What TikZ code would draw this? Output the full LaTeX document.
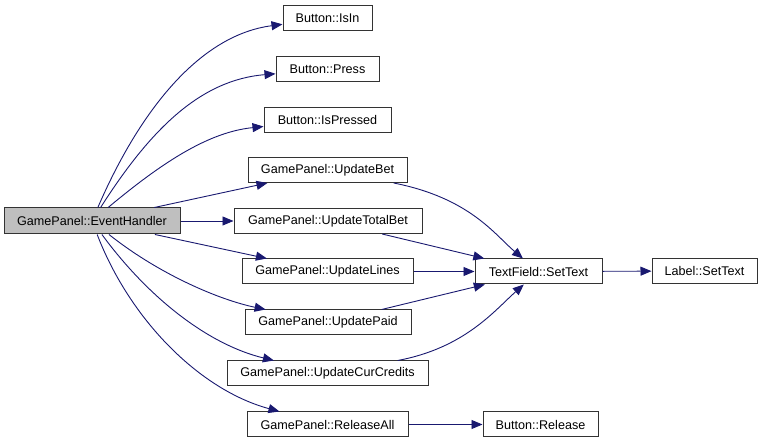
\documentclass[tikz,border=0pt]{standalone}
\usepackage{fontspec}
\setmainfont{Liberation Sans}
\usetikzlibrary{arrows.meta}
\definecolor{edgeblue}{RGB}{25,25,112}
\definecolor{boxgray}{RGB}{191,191,191}
\begin{document}
\begin{tikzpicture}[x=1pt,y=-1pt,
  fn/.style={draw=black!80, line width=1pt, rectangle, minimum height=25pt, inner sep=0pt, fill=white, font=\fontsize{12.6}{15}\selectfont},
  call/.style={draw=edgeblue, line width=0.9pt, -{Triangle[length=11pt,width=9pt]}, fill=none}]
\useasboundingbox (0,0) rectangle (764,443);
\node[fn, fill=boxgray, minimum width=176pt, minimum height=26pt] (eh) at (92,221) {GamePanel::EventHandler};
\node[fn, minimum width=89pt] (isin) at (327.5,18.5) {Button::IsIn};
\node[fn, minimum width=103pt] (press) at (327.5,69.5) {Button::Press};
\node[fn, minimum width=127pt] (ispressed) at (327.5,120) {Button::IsPressed};
\node[fn, minimum width=159pt] (ubet) at (327.5,170) {GamePanel::UpdateBet};
\node[fn, minimum width=188pt] (utotal) at (328,221) {GamePanel::UpdateTotalBet};
\node[fn, minimum width=171pt] (ulines) at (327.5,271.5) {GamePanel::UpdateLines};
\node[fn, minimum width=166pt] (upaid) at (328,322.5) {GamePanel::UpdatePaid};
\node[fn, minimum width=201pt] (ucur) at (327.5,373.5) {GamePanel::UpdateCurCredits};
\node[fn, minimum width=161pt] (rall) at (327.5,424.5) {GamePanel::ReleaseAll};
\node[fn, minimum width=127pt] (tf) at (538.5,271.5) {TextField::SetText};
\node[fn, minimum width=115pt] (rel) at (540.5,424.5) {Button::Release};
\node[fn, minimum width=105pt] (lbl) at (704.5,271) {Label::SetText};

\draw[call] (eh) .. controls (140,110) and (200,35) .. (isin);
\draw[call] (eh) .. controls (150,130) and (200,80) .. (press);
\draw[call] (eh) .. controls (165,160) and (210,132) .. (ispressed);
\draw[call] (eh) -- (ubet);
\draw[call] (eh) -- (utotal);
\draw[call] (eh) -- (ulines);
\draw[call] (eh) .. controls (160,275) and (220,300) .. (upaid);
\draw[call] (eh) .. controls (150,300) and (210,345) .. (ucur);
\draw[call] (eh) .. controls (130,320) and (200,390) .. (rall);
\draw[call] (ubet) .. controls (470,198) and (495,235) .. (tf);
\draw[call] (utotal) -- (tf);
\draw[call] (ulines) -- (tf);
\draw[call] (upaid) -- (tf);
\draw[call] (ucur) .. controls (465,348) and (495,310) .. (tf);
\draw[call] (tf) -- (lbl);
\draw[call] (rall) -- (rel);
\end{tikzpicture}
\end{document}
